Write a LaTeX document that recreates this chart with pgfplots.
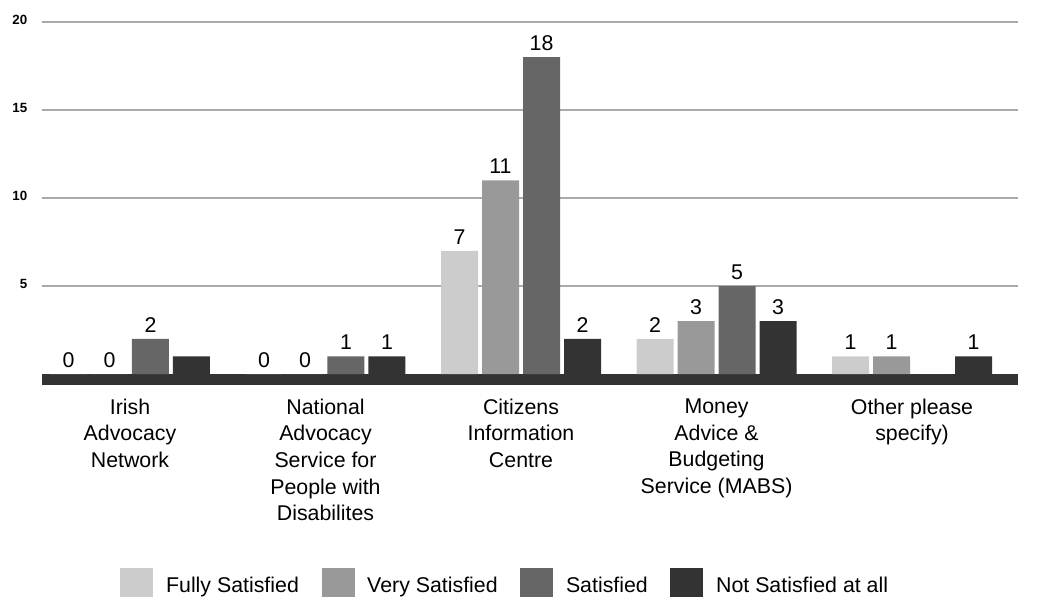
\documentclass[border=0pt]{standalone}
\usepackage{fontspec}
\setmainfont{Liberation Sans}
\usepackage{pgfplots}
\usepackage{pgfplotstable}
\pgfplotsset{compat=1.18}

\definecolor{fully}{RGB}{204,204,204}
\definecolor{very}{RGB}{153,153,153}
\definecolor{sat}{RGB}{102,102,102}
\definecolor{notsat}{RGB}{51,51,51}
\definecolor{gridgray}{RGB}{170,170,170}

% x = service, y = count, lab = label above the bar
\pgfplotstableread{
x y lab
0 0 0
1 0 0
2 7 7
3 2 2
4 1 1
}\fully
\pgfplotstableread{
x y lab
0 0 0
1 0 0
2 11 11
3 3 3
4 1 1
}\very
\pgfplotstableread{
x y lab
0 2 2
1 1 1
2 18 18
3 5 5
4 0 {}
}\satisfied
\pgfplotstableread{
x y lab
0 1 {}
1 1 1
2 2 2
3 3 3
4 1 1
}\notsat

\begin{document}
\begin{tikzpicture}
\begin{axis}[
  scale only axis,
  width=732pt, height=276.21pt,
  ybar=3pt, bar width=27.75pt,
  xmin=-0.450, xmax=4.542,
  ymin=-0.625, ymax=20.3,
  axis line style={draw=none},
  major tick length=0pt,
  ytick={5,10,15,20},
  yticklabels={5,10,15,20},
  yticklabel style={font=\fontsize{10}{11}\selectfont\bfseries, xshift=-7.5pt, yshift=1.5pt},
  ymajorgrids,
  grid style={gridgray, line width=0.8pt},
  extra y ticks={-0.3125},
  extra y tick labels={},
  extra y tick style={grid style={notsat, line width=8.25pt}},
  xtick={0,1,2,3,4},
  xticklabels={
    Irish\\Advocacy\\Network,
    National\\Advocacy\\Service for\\People with\\Disabilites,
    Citizens\\Information\\Centre,
    Money\\Advice \&\\Budgeting\\Service (MABS),
    Other please\\specify)},
  xticklabel style={align=center, anchor=north, yshift=-6.75pt,
    font=\fontsize{16}{20}\selectfont},
  point meta=explicit symbolic,
  nodes near coords,
  nodes near coords style={font=\fontsize{16}{19}\selectfont, yshift=1.5pt},
  legend columns=4,
  legend style={at={(0.475,-0.577)}, anchor=south, draw=none, fill=none,
    inner sep=0pt, font=\fontsize{16}{19}\selectfont,
    /tikz/every odd column/.append style={column sep=7.5pt},
    /tikz/every even column/.append style={column sep=15pt}},
]
\addplot[fill=fully, draw=none,
  legend image code/.code={\fill[fully] (0pt,-8pt) rectangle (24.75pt,13.75pt);}]
  table[x=x, y=y, meta=lab] {\fully};
\addlegendentry{Fully Satisfied}
\addplot[fill=very, draw=none,
  legend image code/.code={\fill[very] (0pt,-8pt) rectangle (24.75pt,13.75pt);}]
  table[x=x, y=y, meta=lab] {\very};
\addlegendentry{Very Satisfied}
\addplot[fill=sat, draw=none,
  legend image code/.code={\fill[sat] (0pt,-8pt) rectangle (24.75pt,13.75pt);}]
  table[x=x, y=y, meta=lab] {\satisfied};
\addlegendentry{Satisfied}
\addplot[fill=notsat, draw=none,
  legend image code/.code={\fill[notsat] (0pt,-8pt) rectangle (24.75pt,13.75pt);}]
  table[x=x, y=y, meta=lab] {\notsat};
\addlegendentry{Not Satisfied at all}
\coordinate (bl) at (rel axis cs:0,0);
\end{axis}
\pgfresetboundingbox
\useasboundingbox ([shift={(-31.5pt,-159pt)}]bl) rectangle ([shift={(747pt,288.75pt)}]bl);
\end{tikzpicture}
\end{document}
